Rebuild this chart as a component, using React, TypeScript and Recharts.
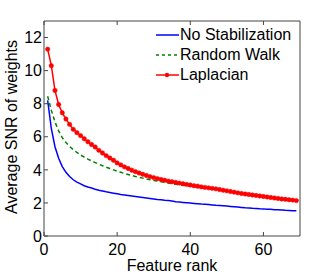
import React from "react";
import { LineChart, Line, XAxis, YAxis, Label } from "recharts";

const ranks = [
  1, 2, 3, 4, 5, 6, 7, 8, 9, 10, 11, 12, 13, 14, 15, 16, 17, 18, 19, 20, 21, 22, 23,
  24, 25, 26, 27, 28, 29, 30, 31, 32, 33, 34, 35, 36, 37, 38, 39, 40, 41, 42, 43, 44, 45,
  46, 47, 48, 49, 50, 51, 52, 53, 54, 55, 56, 57, 58, 59, 60, 61, 62, 63, 64, 65, 66, 67,
  68, 69,
];

const noStabilization = [
  8.2, 6.5, 5.4, 4.7, 4.2, 3.85, 3.6, 3.4, 3.26, 3.15, 3.04, 2.96, 2.9, 2.83, 2.77, 2.72,
  2.67, 2.63, 2.59, 2.55, 2.51, 2.48, 2.45, 2.42, 2.39, 2.36, 2.33, 2.3, 2.27, 2.24, 2.21,
  2.19, 2.16, 2.14, 2.12, 2.07, 2.05, 2.03, 2.01, 1.99, 1.97, 1.95, 1.93, 1.92, 1.9, 1.88,
  1.86, 1.85, 1.83, 1.81, 1.79, 1.77, 1.75, 1.73, 1.71, 1.7, 1.68, 1.67, 1.65, 1.64, 1.62,
  1.61, 1.59, 1.58, 1.57, 1.55, 1.54, 1.53, 1.52,
];

const randomWalk = [
  8.45, 7.6, 6.9, 6.35, 5.95, 5.65, 5.42, 5.22, 5.05, 4.9, 4.77, 4.65, 4.54, 4.44, 4.34,
  4.25, 4.16, 4.08, 4.0, 3.92, 3.85, 3.78, 3.72, 3.66, 3.6, 3.55, 3.5, 3.45, 3.4, 3.36,
  3.32, 3.28, 3.24, 3.2, 3.17, 3.13, 3.1, 3.07, 3.05, 3.03, 3.0, 2.97, 2.94, 2.91, 2.88,
  2.85, 2.82, 2.79, 2.76, 2.72, 2.68, 2.64, 2.6, 2.57, 2.54, 2.51, 2.48, 2.45, 2.42, 2.39,
  2.36, 2.34, 2.31, 2.28, 2.26, 2.23, 2.21, 2.19, 2.17,
];

const laplacian = [
  11.3, 10.3, 8.8, 7.95, 7.45, 7.07, 6.75, 6.45, 6.25, 6.07, 5.88, 5.7, 5.53, 5.38, 5.18,
  5.02, 4.86, 4.72, 4.58, 4.42, 4.3, 4.18, 4.08, 3.98, 3.89, 3.81, 3.73, 3.66, 3.59, 3.53,
  3.47, 3.42, 3.37, 3.32, 3.28, 3.24, 3.2, 3.16, 3.12, 3.08, 3.04, 3.01, 2.97, 2.94, 2.91,
  2.88, 2.85, 2.81, 2.77, 2.73, 2.69, 2.65, 2.61, 2.57, 2.54, 2.51, 2.48, 2.45, 2.42, 2.39,
  2.36, 2.33, 2.3, 2.27, 2.24, 2.22, 2.19, 2.17, 2.14,
];

const xTicks = [0, 20, 40, 60];
const yTicks = [0, 2, 4, 6, 8, 10, 12];

const BLUE = "#0000ff";
const GREEN = "#008000";
const RED = "#ff0000";
const AXIS = "#444444";
const FONT = "'Liberation Sans', Arial, sans-serif";

const data = ranks.map((rank, i) => ({
  rank,
  noStab: noStabilization[i],
  walk: randomWalk[i],
  lap: laplacian[i],
}));

const legendItems = [
  { name: "No Stabilization", color: BLUE, dash: undefined, dot: false },
  { name: "Random Walk", color: GREEN, dash: "3 3", dot: false },
  { name: "Laplacian", color: RED, dash: undefined, dot: true },
];

function LegendBox() {
  return (
    <div
      style={{
        position: "absolute",
        left: 155,
        top: 25,
        fontFamily: FONT,
        fontSize: 16,
        color: "#000",
      }}
    >
      {legendItems.map((it) => (
        <div key={it.name} style={{ display: "flex", alignItems: "center", height: 20 }}>
          <svg width={25} height={20} style={{ display: "block" }}>
            <line x1={1} y1={10} x2={24} y2={10} stroke={it.color} strokeWidth={1.5} strokeDasharray={it.dash} />
            {it.dot && <circle cx={12} cy={10} r={2.2} fill={it.color} />}
          </svg>
          <span style={{ lineHeight: "20px", whiteSpace: "nowrap" }}>{it.name}</span>
        </div>
      ))}
    </div>
  );
}

const emptyTick = () => <g />;

export default function App() {
  return (
    <div style={{ position: "absolute", left: 0, top: 0, width: 332, height: 274, background: "#fff" }}>
      <LineChart
        width={332}
        height={274}
        data={data}
        margin={{ top: 20, right: 31, bottom: 0, left: 0 }}
        style={{ fontFamily: FONT }}
      >
        <XAxis
          xAxisId="bottom"
          dataKey="rank"
          type="number"
          domain={[0, 70]}
          ticks={xTicks}
          height={38}
          stroke={AXIS}
          tickSize={-4}
          tickMargin={12}
          tick={{ fill: "#000", fontSize: 16 }}
        >
          <Label
            content={() => (
              <text x={172} y={271} textAnchor="middle" fontSize={16} fill="#000" fontFamily={FONT}>
                Feature rank
              </text>
            )}
          />
        </XAxis>
        <XAxis
          xAxisId="top"
          orientation="top"
          dataKey="rank"
          type="number"
          domain={[0, 70]}
          ticks={xTicks}
          height={1}
          stroke={AXIS}
          tickSize={-4}
          tick={emptyTick}
        />
        <YAxis
          yAxisId="left"
          type="number"
          domain={[0, 13]}
          ticks={yTicks}
          width={44}
          stroke={AXIS}
          tickSize={-4}
          tickMargin={6}
          tick={{ fill: "#000", fontSize: 16 }}
        >
          <Label
            content={() => (
              <text
                x={17}
                y={127}
                textAnchor="middle"
                fontSize={16}
                fill="#000"
                fontFamily={FONT}
                transform="rotate(-90 17 127)"
              >
                Average SNR of weights
              </text>
            )}
          />
        </YAxis>
        <YAxis
          yAxisId="right"
          orientation="right"
          type="number"
          domain={[0, 13]}
          ticks={yTicks}
          width={1}
          stroke={AXIS}
          tickSize={-4}
          tick={emptyTick}
        />
        <Line
          xAxisId="bottom"
          yAxisId="left"
          dataKey="noStab"
          stroke={BLUE}
          strokeWidth={1.5}
          dot={false}
          isAnimationActive={false}
        />
        <Line
          xAxisId="bottom"
          yAxisId="left"
          dataKey="walk"
          stroke={GREEN}
          strokeWidth={1.5}
          strokeDasharray="4 3"
          dot={false}
          isAnimationActive={false}
        />
        <Line
          xAxisId="bottom"
          yAxisId="left"
          dataKey="lap"
          stroke={RED}
          strokeWidth={1.5}
          dot={{ r: 2.2, fill: RED, stroke: RED, strokeWidth: 0.5 }}
          isAnimationActive={false}
        />
      </LineChart>
      <LegendBox />
    </div>
  );
}
